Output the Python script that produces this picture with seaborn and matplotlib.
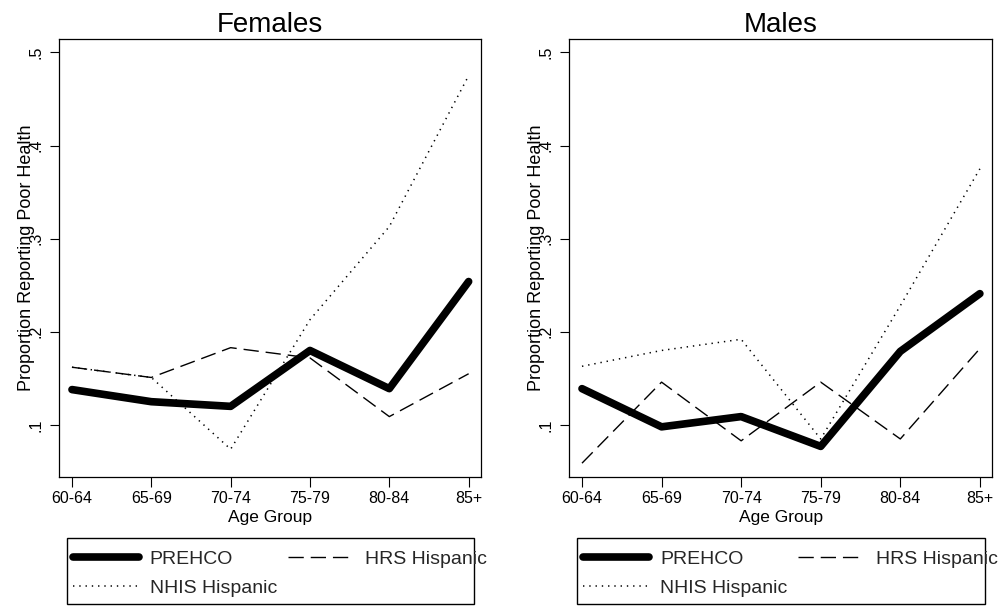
import matplotlib
matplotlib.use("Agg")
import matplotlib.pyplot as plt
from matplotlib.patches import Rectangle
from matplotlib.ticker import FixedLocator, FuncFormatter
import seaborn as sns
import pandas as pd

# Age groups on the x axis
age_groups = ["60-64", "65-69", "70-74", "75-79", "80-84", "85+"]

# Proportion reporting poor health, females
fem_prehco = [0.138, 0.125, 0.120, 0.180, 0.139, 0.254]
fem_hrs = [0.162, 0.151, 0.183, 0.172, 0.109, 0.155]
fem_nhis = [0.162, 0.151, 0.074, 0.213, 0.313, 0.475]

# Proportion reporting poor health, males
male_prehco = [0.139, 0.098, 0.109, 0.077, 0.179, 0.241]
male_hrs = [0.059, 0.146, 0.083, 0.146, 0.085, 0.182]
male_nhis = [0.163, 0.180, 0.192, 0.085, 0.228, 0.375]

series_names = ["PREHCO", "NHIS Hispanic", "HRS Hispanic"]
y_ticks = [0.1, 0.2, 0.3, 0.4, 0.5]

sns.set_theme(style="ticks")
plt.rcParams["font.family"] = ["Liberation Sans", "DejaVu Sans"]
plt.rcParams["axes.linewidth"] = 0.9

styles = {
    "PREHCO": dict(linewidth=5.5, linestyle="-", solid_capstyle="round",
                   solid_joinstyle="round"),
    "NHIS Hispanic": dict(linewidth=1.1, linestyle=(0, (0.9, 3.2))),
    "HRS Hispanic": dict(linewidth=1.0, linestyle=(0, (11, 5))),
}

panels = [
    ("Females", {"PREHCO": fem_prehco, "HRS Hispanic": fem_hrs,
                 "NHIS Hispanic": fem_nhis},
     [0.0594, 0.2134, 0.4225, 0.7217], 0.0668, 0.4080),
    ("Males", {"PREHCO": male_prehco, "HRS Hispanic": male_hrs,
               "NHIS Hispanic": male_nhis},
     [0.5704, 0.2134, 0.4238, 0.7217], 0.5785, 0.4085),
]

box_bottom = 0.0025
box_height = 0.1102

fig = plt.figure(figsize=(9.98, 6.06), dpi=100)

for title, data, rect, box_x, box_w in panels:
    ax = fig.add_axes(rect)
    df = pd.DataFrame([
        {"Age Group": g, "value": v, "series": name}
        for name in series_names for g, v in zip(age_groups, data[name])
    ])
    for name in series_names:
        sub = df[df["series"] == name]
        sns.lineplot(data=sub, x="Age Group", y="value", ax=ax,
                     color="black", label=name, sort=False, **styles[name])

    ax.set_xlim(-0.16, 5.155)
    ax.set_ylim(0.0445, 0.514)
    ax.yaxis.set_major_locator(FixedLocator(y_ticks))
    ax.yaxis.set_major_formatter(FuncFormatter(lambda v, p: f"{v:.1f}".lstrip("0")))
    ax.tick_params(axis="y", labelrotation=90, length=6.5, width=0.8,
                   pad=5, labelsize=11.5, color="black", labelcolor="black")
    ax.tick_params(axis="x", length=7, width=0.8, pad=3, labelsize=11.5,
                   color="black", labelcolor="black")
    for lbl in ax.get_yticklabels():
        lbl.set_va("center")
    for sp in ax.spines.values():
        sp.set_color("black")
        sp.set_visible(True)

    ax.set_title(title, fontsize=20, pad=5.5, color="black")
    ax.set_xlabel("Age Group", fontsize=12.5, color="black")
    ax.xaxis.set_label_coords(0.5, -0.076)
    ax.set_ylabel("Proportion Reporting Poor Health", fontsize=13,
                  color="black")
    ax.yaxis.set_label_coords(-0.057, 0.5)

    handles, labels = ax.get_legend_handles_labels()
    ax.get_legend().remove()
    fig.legend(handles, labels, ncol=2, frameon=False, fontsize=14,
               loc="upper left",
               bbox_to_anchor=(box_x + 0.002, 0.099),
               bbox_transform=fig.transFigure,
               handlelength=3.4, handletextpad=0.57, columnspacing=0.55,
               labelspacing=0.62, borderaxespad=0, borderpad=0.2)
    fig.add_artist(Rectangle((box_x, box_bottom), box_w, box_height,
                             transform=fig.transFigure, fill=False,
                             edgecolor="black", linewidth=1.0))

fig.savefig("out.png", dpi=100, facecolor="white")
